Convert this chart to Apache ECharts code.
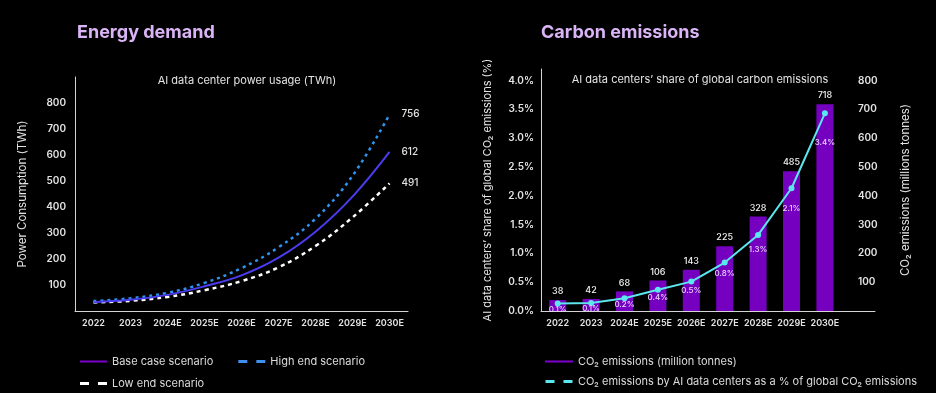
<!DOCTYPE html>
<html>
<head>
<meta charset="utf-8">
<style>
  html, body { margin: 0; padding: 0; background: #000; }
  #chart { width: 936px; height: 393px; }
</style>
<script src="https://cdn.jsdelivr.net/npm/echarts@6/dist/echarts.min.js"></script>
</head>
<body>
<div id="chart"></div>
<script>
// ---- data ----
const years = ['2022', '2023', '2024E', '2025E', '2026E', '2027E', '2028E', '2029E', '2030E'];
const baseCase = [34, 43, 62, 95, 137, 205, 305, 440, 612];
const highEnd = [38, 49, 70, 108, 165, 245, 355, 520, 756];
const lowEnd = [33, 39, 54, 80, 115, 168, 250, 360, 491];
const co2Tonnes = [38, 42, 68, 106, 143, 225, 328, 485, 718];
const co2Share = [0.13, 0.14, 0.22, 0.37, 0.51, 0.84, 1.32, 2.13, 3.43];

const FONT = 'Inter, Roboto, "Noto Sans", sans-serif';
const AXIS_COLOR = '#d4d4d4';
const TEXT = '#e4e4e4';
const solidIcon = 'path://M0,0H27V2H0Z';
const dashIcon = 'path://M0,0H9V3H0Z M18,0H27V3H18Z';

const chart = echarts.init(document.getElementById('chart'), null, { renderer: 'canvas' });

const option = {
  backgroundColor: '#000',
  textStyle: { fontFamily: FONT },
  title: [
    { text: 'Energy demand', left: 72, top: 19,
      textStyle: { color: '#dab4f6', fontSize: 18, fontWeight: 'bold', fontFamily: FONT } },
    { text: 'Carbon emissions', left: 536, top: 19,
      textStyle: { color: '#dab4f6', fontSize: 18, fontWeight: 'bold', fontFamily: FONT } },
    { text: 'AI data center power usage (TWh)', left: 242, top: 70, textAlign: 'center',
      textStyle: { color: TEXT, fontSize: 11, fontWeight: 'normal', fontFamily: FONT } },
    { text: 'AI data centers\u2019 share of global carbon emissions', left: 695, top: 69, textAlign: 'center',
      textStyle: { color: TEXT, fontSize: 11, fontWeight: 'normal', fontFamily: FONT } }
  ],
  legend: [
    { left: 75, top: 351, itemWidth: 27, itemHeight: 3, itemGap: 25,
      textStyle: { color: '#dcdcdc', fontSize: 11, fontFamily: FONT },
      itemStyle: { borderWidth: 0 },
      data: [
        { name: 'Base case scenario', icon: solidIcon, itemStyle: { color: '#7a00c8' } },
        { name: 'High end scenario', icon: dashIcon, itemStyle: { color: '#3f8ff0' } }
      ] },
    { left: 75, top: 373, itemWidth: 27, itemHeight: 3,
      textStyle: { color: '#dcdcdc', fontSize: 11, fontFamily: FONT },
      itemStyle: { borderWidth: 0 },
      data: [ { name: 'Low end scenario', icon: dashIcon, itemStyle: { color: '#ffffff' } } ] },
    { left: 540, top: 351, orient: 'vertical', itemWidth: 28, itemHeight: 3, itemGap: 9,
      textStyle: { color: '#dcdcdc', fontSize: 11, fontFamily: FONT },
      itemStyle: { borderWidth: 0 },
      data: [
        { name: 'CO\u2082 emissions (million tonnes)', icon: solidIcon, itemStyle: { color: '#7a00c8' } },
        { name: 'CO\u2082 emissions by AI data centers as a % of global CO\u2082 emissions', icon: dashIcon, itemStyle: { color: '#5ce6ee' } }
      ] }
  ],
  grid: [
    { left: 75, top: 77, width: 333, height: 234 },
    { left: 541, top: 69, width: 334, height: 242 }
  ],
  xAxis: [
    { type: 'category', gridIndex: 0, data: years, boundaryGap: true,
      axisLine: { lineStyle: { color: AXIS_COLOR, width: 1 } },
      axisTick: { show: false },
      axisLabel: { color: TEXT, fontSize: 9, fontWeight: 600, margin: 8, interval: 0, fontFamily: FONT } },
    { type: 'category', gridIndex: 1, data: years, boundaryGap: true, max: 9,
      axisLine: { lineStyle: { color: AXIS_COLOR, width: 1 } },
      axisTick: { show: false },
      axisLabel: { color: TEXT, fontSize: 9, fontWeight: 600, margin: 8, interval: 0, fontFamily: FONT,
        formatter: v => (v == null ? '' : v) } }
  ],
  yAxis: [
    { type: 'value', gridIndex: 0, min: 0, max: 900, interval: 100,
      name: 'Power Consumption (TWh)', nameLocation: 'middle', nameGap: 46, nameRotate: 90,
      nameTextStyle: { color: TEXT, fontSize: 11.5, fontFamily: FONT },
      axisLine: { show: true, lineStyle: { color: AXIS_COLOR, width: 1 } },
      axisTick: { show: false }, splitLine: { show: false },
      axisLabel: { color: TEXT, fontSize: 10, fontWeight: 600, margin: 9, showMinLabel: false, showMaxLabel: false, fontFamily: FONT } },
    { type: 'value', gridIndex: 1, min: 0, max: 4.2, interval: 0.5, position: 'left',
      name: 'AI data centers\u2019 share of global CO\u2082 emissions (%)', nameLocation: 'middle', nameGap: 48, nameRotate: 90,
      nameTextStyle: { color: TEXT, fontSize: 11, fontFamily: FONT },
      axisLine: { show: true, lineStyle: { color: AXIS_COLOR, width: 1 } },
      axisTick: { show: false }, splitLine: { show: false },
      axisLabel: { color: TEXT, fontSize: 10, fontWeight: 600, margin: 7, showMaxLabel: false, fontFamily: FONT,
        formatter: v => v.toFixed(1) + '%' } },
    { type: 'value', gridIndex: 1, min: 0, max: 840, interval: 100, position: 'right', offset: -27,
      name: 'CO\u2082 emissions (millions tonnes)', nameLocation: 'middle', nameGap: 52, nameRotate: 90,
      nameTextStyle: { color: TEXT, fontSize: 11.5, fontFamily: FONT },
      axisLine: { show: false }, axisTick: { show: false }, splitLine: { show: false },
      axisLabel: { color: TEXT, fontSize: 10, fontWeight: 600, margin: 10, showMinLabel: false, showMaxLabel: false, fontFamily: FONT } }
  ],
  series: [
    { name: 'Base case scenario', type: 'line', xAxisIndex: 0, yAxisIndex: 0, data: baseCase,
      smooth: 0.4, symbol: 'none', z: 4,
      lineStyle: { color: '#4b3cf0', width: 2 }, itemStyle: { color: '#4b3cf0' },
      endLabel: { show: true, color: TEXT, fontSize: 10, fontWeight: 500, distance: 12, formatter: p => p.value } },
    { name: 'High end scenario', type: 'line', xAxisIndex: 0, yAxisIndex: 0, data: highEnd,
      smooth: 0.4, symbol: 'none', z: 3,
      lineStyle: { color: '#2d95ef', width: 2.5, type: [3, 4] }, itemStyle: { color: '#2d95ef' },
      endLabel: { show: true, color: TEXT, fontSize: 10, fontWeight: 500, distance: 12, formatter: p => p.value } },
    { name: 'Low end scenario', type: 'line', xAxisIndex: 0, yAxisIndex: 0, data: lowEnd,
      smooth: 0.4, symbol: 'none', z: 3,
      lineStyle: { color: '#ffffff', width: 2.5, type: [4, 4] }, itemStyle: { color: '#ffffff' },
      endLabel: { show: true, color: TEXT, fontSize: 10, fontWeight: 500, distance: 12, formatter: p => p.value } },
    { name: 'CO\u2082 emissions (million tonnes)', type: 'bar', xAxisIndex: 1, yAxisIndex: 2, data: co2Tonnes,
      barWidth: 17, itemStyle: { color: '#7500c0' },
      label: { show: true, position: 'top', distance: 4, color: '#f0f0f0', fontSize: 9, fontWeight: 500, fontFamily: FONT } },
    { name: 'CO\u2082 emissions by AI data centers as a % of global CO\u2082 emissions', type: 'line',
      xAxisIndex: 1, yAxisIndex: 1,
      data: co2Share.map(v => ({ value: v, label: { distance: 7 * v - 2 } })),
      symbol: 'circle', symbolSize: 6, z: 5,
      lineStyle: { color: '#5ce6ee', width: 2 }, itemStyle: { color: '#5ce6ee' },
      label: { show: true, position: 'bottom', color: '#e8d2ff', fontSize: 8, fontWeight: 500, fontFamily: FONT,
        formatter: p => p.value.toFixed(1) + '%' } }
  ]
};

chart.setOption(option);
</script>
</body>
</html>
